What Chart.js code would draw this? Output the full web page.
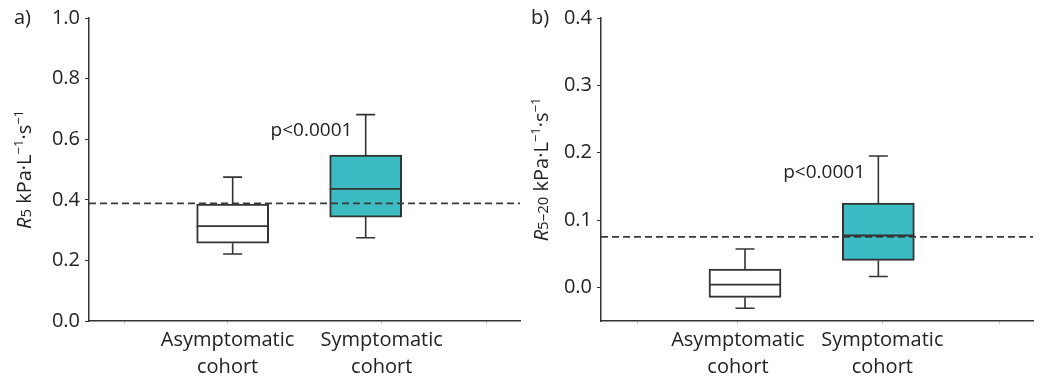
<!DOCTYPE html>
<html>
<head>
<meta charset="utf-8">
<script src="https://cdn.jsdelivr.net/npm/chart.js@4.4.1/dist/chart.umd.min.js"></script>
<style>
  body { margin: 0; background: #fff; }
  .wrap { display: flex; width: 1042px; height: 377px; }
  canvas { display: block; }
</style>
</head>
<body>
<div class="wrap">
  <canvas id="chartA" width="521" height="377"></canvas>
  <canvas id="chartB" width="521" height="377"></canvas>
</div>
<script>
const categories = [["Asymptomatic", "cohort"], ["Symptomatic", "cohort"]];

// panel a: R5
const r5Min = [0.221, 0.275];
const r5Q1 = [0.257, 0.343];
const r5Median = [0.313, 0.436];
const r5Q3 = [0.386, 0.548];
const r5Max = [0.475, 0.681];
const r5Ref = 0.388;
const r5Ticks = [0, 0.2, 0.4, 0.6, 0.8, 1.0];

// panel b: R5-20
const r520Min = [-0.031, 0.016];
const r520Q1 = [-0.015, 0.040];
const r520Median = [0.004, 0.077];
const r520Q3 = [0.027, 0.125];
const r520Max = [0.057, 0.195];
const r520Ref = 0.075;
const r520Ticks = [0, 0.1, 0.2, 0.3, 0.4];

const boxColors = ["#ffffff", "#3cbcc2"];
const pText = "p<0.0001";

const FONT = "'Open Sans', Roboto, sans-serif";
const INK = "#222";
const LINE = "#333";

// whiskers, medians, reference line, p value, titles
const boxExtras = {
  id: "boxExtras",
  afterDatasetsDraw(chart, args, opts) {
    const ctx = chart.ctx;
    const x = chart.scales.x, y = chart.scales.y;
    const meta = chart.getDatasetMeta(0);
    const area = chart.chartArea;
    ctx.save();

    // dashed reference line
    ctx.strokeStyle = "#3a3a3a";
    ctx.lineWidth = 1.8;
    ctx.setLineDash([7, 4]);
    const ry = y.getPixelForValue(opts.ref);
    ctx.beginPath();
    ctx.moveTo(area.left, ry);
    ctx.lineTo(area.right, ry);
    ctx.stroke();
    ctx.setLineDash([]);

    ctx.strokeStyle = LINE;
    meta.data.forEach((bar, i) => {
      const cx = bar.x;
      const half = bar.width / 2;
      const cap = 9.5;
      ctx.lineWidth = 1.6;
      ctx.beginPath();
      ctx.moveTo(cx, y.getPixelForValue(opts.q3[i]));
      ctx.lineTo(cx, y.getPixelForValue(opts.max[i]));
      ctx.moveTo(cx - cap, y.getPixelForValue(opts.max[i]));
      ctx.lineTo(cx + cap, y.getPixelForValue(opts.max[i]));
      ctx.moveTo(cx, y.getPixelForValue(opts.q1[i]));
      ctx.lineTo(cx, y.getPixelForValue(opts.min[i]));
      ctx.moveTo(cx - cap, y.getPixelForValue(opts.min[i]));
      ctx.lineTo(cx + cap, y.getPixelForValue(opts.min[i]));
      ctx.stroke();
      ctx.lineWidth = 1.8;
      ctx.beginPath();
      ctx.moveTo(cx - half, y.getPixelForValue(opts.median[i]));
      ctx.lineTo(cx + half, y.getPixelForValue(opts.median[i]));
      ctx.stroke();
    });

    // p value
    ctx.fillStyle = INK;
    ctx.font = "19px " + FONT;
    ctx.textAlign = "right";
    ctx.textBaseline = "middle";
    ctx.fillText(pText, x.getPixelForValue(opts.pX), y.getPixelForValue(opts.pY));

    // panel letter
    ctx.textAlign = "left";
    ctx.font = "20px " + FONT;
    ctx.fillText(opts.letter, opts.letterX, 18);

    // rotated axis title with mixed styles
    const segs = opts.title;
    let total = 0;
    segs.forEach(s => {
      ctx.font = (s.italic ? "italic " : "") + s.size + "px " + FONT;
      s.w = ctx.measureText(s.t).width;
      total += s.w;
    });
    ctx.translate(opts.titleX, (area.top + area.bottom) / 2);
    ctx.rotate(-Math.PI / 2);
    ctx.textBaseline = "alphabetic";
    let pos = -total / 2;
    segs.forEach(s => {
      ctx.font = (s.italic ? "italic " : "") + s.size + "px " + FONT;
      ctx.fillText(s.t, pos, s.sup ? -1 : 7);
      pos += s.w;
    });
    ctx.restore();
  }
};

function makeChart(id, cfg) {
  const boxData = cfg.q1.map((v, i) => ({ x: i + 1, y: [v, cfg.q3[i]] }));
  return new Chart(document.getElementById(id), {
    type: "bar",
    data: {
      datasets: [{
        data: boxData,
        backgroundColor: boxColors,
        borderColor: LINE,
        borderWidth: 2,
        borderSkipped: false,
        barThickness: 72
      }]
    },
    options: {
      responsive: false,
      animation: false,
      layout: { padding: { top: 18, right: cfg.padRight, left: 0, bottom: 0 } },
      plugins: {
        legend: { display: false },
        tooltip: { enabled: false },
        boxExtras: {
          ref: cfg.ref, q1: cfg.q1, q3: cfg.q3, min: cfg.min, max: cfg.max,
          median: cfg.median, pX: 1.9, pY: cfg.pY, letter: cfg.letter,
          letterX: cfg.letterX, title: cfg.title, titleX: cfg.titleX
        }
      },
      scales: {
        x: {
          type: "linear",
          min: -0.08,
          max: 3.16,
          offset: false,
          grid: { display: true, drawOnChartArea: false, offset: false, tickLength: 3, color: "#bbb", lineWidth: 1 },
          border: { color: LINE, width: 1.5 },
          afterBuildTicks(scale) {
            scale.ticks = [0.19, cfg.labelAt[0], cfg.labelAt[1], 2.91].map(v => ({ value: v }));
          },
          afterFit(scale) { scale.height = 56; },
          ticks: {
            padding: 3,
            color: INK,
            font: { family: FONT, size: 20, lineHeight: 1.35 },
            maxRotation: 0,
            autoSkip: false,
            callback: (v, i) => (i === 1 ? categories[0] : i === 2 ? categories[1] : "")
          }
        },
        y: {
          min: cfg.yMin,
          max: cfg.yMax,
          grid: { drawOnChartArea: false, tickLength: 4, color: LINE },
          border: { color: LINE, width: 1.5 },
          afterBuildTicks(scale) {
            scale.ticks = cfg.ticks.map(v => ({ value: v }));
          },
          afterFit(scale) { scale.width = cfg.axisLeft; },
          ticks: {
            padding: 5,
            color: INK,
            font: { family: FONT, size: 20 },
            callback: v => v.toFixed(1)
          }
        }
      }
    },
    plugins: [boxExtras]
  });
}

makeChart("chartA", {
  q1: r5Q1, q3: r5Q3, min: r5Min, max: r5Max, median: r5Median, ref: r5Ref,
  ticks: r5Ticks, yMin: 0, yMax: 1.0, pY: 0.63, labelAt: [0.962, 2.12],
  axisLeft: 89, padRight: 1, letter: "a)", letterX: 14, titleX: 24,
  title: [
    { t: "R", size: 20, italic: true }, { t: "5", size: 15 }, { t: " kPa·L", size: 20 },
    { t: "−1", size: 13, sup: true }, { t: "·s", size: 20 }, { t: "−1", size: 13, sup: true }
  ]
});

makeChart("chartB", {
  q1: r520Q1, q3: r520Q3, min: r520Min, max: r520Max, median: r520Median, ref: r520Ref,
  ticks: r520Ticks, yMin: -0.05, yMax: 0.4, pY: 0.171, labelAt: [0.947, 2.03],
  axisLeft: 80, padRight: 9, letter: "b)", letterX: 10, titleX: 20,
  title: [
    { t: "R", size: 20, italic: true }, { t: "5–20", size: 15 }, { t: " kPa·L", size: 20 },
    { t: "−1", size: 13, sup: true }, { t: "·s", size: 20 }, { t: "−1", size: 13, sup: true }
  ]
});
</script>
</body>
</html>
